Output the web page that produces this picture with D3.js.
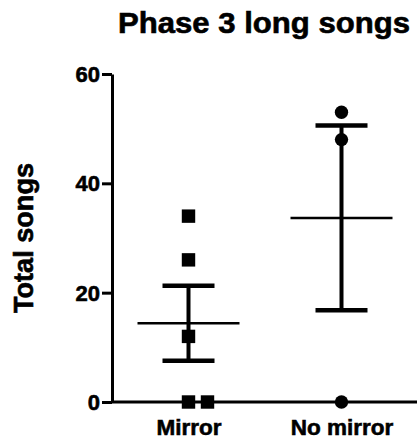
<!DOCTYPE html>
<html>
<head>
<meta charset="utf-8">
<script src="https://cdn.jsdelivr.net/npm/d3@7"></script>
<style>
  body { margin: 0; background: #fff; }
  svg text { font-family: "Liberation Sans", Arial, sans-serif !important; font-weight: bold !important; fill: #000; stroke: #000; stroke-width: 0.6px; }
</style>
</head>
<body>
<div id="chart"></div>
<script>
// データ
const categories = ['Mirror', 'No mirror'];
const mirrorValues = [0, 0, 12, 26, 34];
const noMirrorValues = [0, 48, 53];
const yTicks = [0, 20, 40, 60];
const title = 'Phase 3 long songs';
const yLabel = 'Total songs';

const groups = [
  { name: categories[0], values: mirrorValues, symbol: d3.symbolSquare },
  { name: categories[1], values: noMirrorValues, symbol: d3.symbolCircle }
];

// svg領域設定
const svgWidth = 417;
const svgHeight = 440;
const svg = d3.select('#chart')
  .append('svg')
  .attr('width', svgWidth)
  .attr('height', svgHeight);

const x = d3.scalePoint()
  .domain(categories)
  .range([112, 418])
  .padding(0.5);

const y = d3.scaleLinear()
  .domain([0, 60])
  .range([402, 74]);

// mean / SEM
groups.forEach(g => {
  g.mean = d3.mean(g.values);
  g.sem = d3.deviation(g.values) / Math.sqrt(g.values.length);
});

// title
svg.append('text')
  .attr('x', 264)
  .attr('y', 33)
  .attr('text-anchor', 'middle')
  .attr('textLength', 292)
  .attr('lengthAdjust', 'spacingAndGlyphs')
  .style('font-size', '29px')
  .text(title);

// y label
svg.append('text')
  .attr('transform', `translate(33,238) rotate(-90)`)
  .attr('text-anchor', 'middle')
  .attr('textLength', 150)
  .attr('lengthAdjust', 'spacingAndGlyphs')
  .style('font-size', '27px')
  .text(yLabel);

// y axis
const yAxis = svg.append('g')
  .attr('transform', `translate(${x.range()[0]},0)`)
  .call(d3.axisLeft(y).tickValues(yTicks).tickSize(10).tickSizeOuter(0).tickPadding(2));
yAxis.select('.domain').attr('stroke', '#000').attr('stroke-width', 3);
yAxis.selectAll('.tick line').attr('stroke', '#000').attr('stroke-width', 3);
yAxis.selectAll('.tick text')
  .attr('font-size', 22)
  .attr('dy', '0.34em');

// x axis
const xAxis = svg.append('g')
  .attr('transform', `translate(0,${y(0)})`)
  .call(d3.axisBottom(x).tickSize(0).tickSizeOuter(0).tickPadding(17));
xAxis.select('.domain')
  .attr('d', `M${x.range()[0]},0H${svgWidth}`)
  .attr('stroke', '#000').attr('stroke-width', 3);
xAxis.selectAll('.tick text')
  .attr('font-size', 22.5);

// error bars
const bars = svg.append('g')
  .selectAll('g')
  .data(groups)
  .join('g');

bars.append('line')
  .attr('x1', d => x(d.name)).attr('x2', d => x(d.name))
  .attr('y1', d => y(d.mean + d.sem)).attr('y2', d => y(d.mean - d.sem))
  .attr('stroke', '#000').attr('stroke-width', 4);

[1, -1].forEach(s => {
  bars.append('line')
    .attr('x1', d => x(d.name) - 26).attr('x2', d => x(d.name) + 26)
    .attr('y1', d => y(d.mean + s * d.sem)).attr('y2', d => y(d.mean + s * d.sem))
    .attr('stroke', '#000').attr('stroke-width', 4.5);
});

bars.append('line')
  .attr('x1', d => x(d.name) - 51).attr('x2', d => x(d.name) + 51)
  .attr('y1', d => y(d.mean)).attr('y2', d => y(d.mean))
  .attr('stroke', '#000').attr('stroke-width', 2.5);

// points (重複値は右にずらす)
const points = groups.flatMap(g => g.values.map((v, i) => ({
  name: g.name,
  value: v,
  symbol: g.symbol,
  dup: g.values.slice(0, i).filter(w => w === v).length
})));

svg.append('g')
  .selectAll('path')
  .data(points)
  .join('path')
  .attr('d', d => d3.symbol().type(d.symbol).size(d.symbol === d3.symbolSquare ? 180 : 140)())
  .attr('transform', d => `translate(${x(d.name) + d.dup * 19},${y(d.value)})`)
  .attr('fill', '#000');
</script>
</body>
</html>
